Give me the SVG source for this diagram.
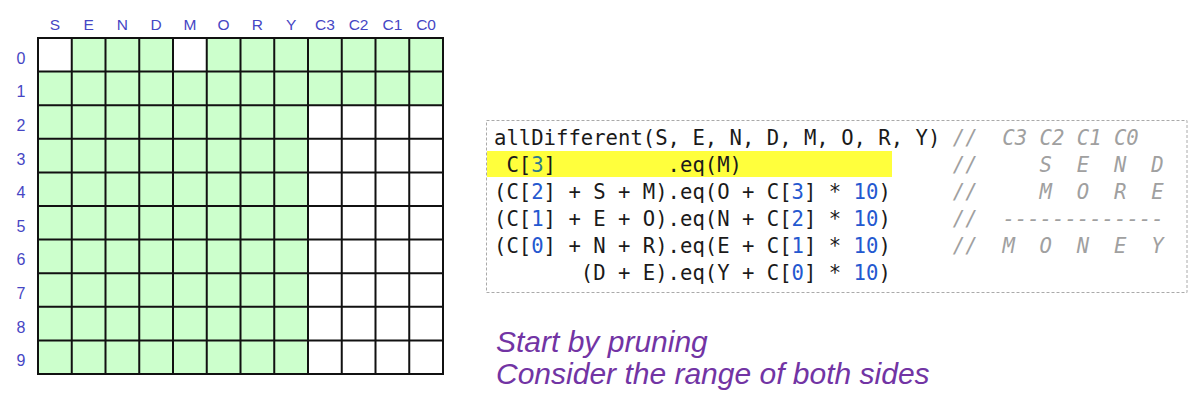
<svg xmlns="http://www.w3.org/2000/svg" width="1190" height="405" viewBox="0 0 1190 405">
<style>
.lbl{font-family:"Liberation Sans",Arial,sans-serif;font-size:15.5px;fill:#4646c4;text-anchor:middle}
.rl{font-family:"Liberation Sans",Arial,sans-serif;font-size:16px;fill:#4646c4;text-anchor:middle}
.g{fill:#ccffcc}
.code{font-family:"DejaVu Sans Mono","Liberation Mono",monospace;font-size:20.6px;fill:#1a1a1a;white-space:pre}
.n{fill:#2458d0}
.cm{fill:#a0a0a0;font-style:italic}
.cap{font-family:"Liberation Sans",Arial,sans-serif;font-size:30px;font-style:italic;fill:#7234a4}
</style>
<rect width="1190" height="405" fill="#ffffff"/>
<g id="column-labels">
<text class="lbl" x="54.9" y="30">S</text>
<text class="lbl" x="88.6" y="30">E</text>
<text class="lbl" x="122.4" y="30">N</text>
<text class="lbl" x="156.1" y="30">D</text>
<text class="lbl" x="189.9" y="30">M</text>
<text class="lbl" x="223.6" y="30">O</text>
<text class="lbl" x="257.4" y="30">R</text>
<text class="lbl" x="291.1" y="30">Y</text>
<text class="lbl" x="324.9" y="30">C3</text>
<text class="lbl" x="358.6" y="30">C2</text>
<text class="lbl" x="392.4" y="30">C1</text>
<text class="lbl" x="426.1" y="30">C0</text>
</g>
<g id="row-labels">
<text class="rl" x="21" y="63.8">0</text>
<text class="rl" x="21" y="97.4">1</text>
<text class="rl" x="21" y="131">2</text>
<text class="rl" x="21" y="164.6">3</text>
<text class="rl" x="21" y="198.2">4</text>
<text class="rl" x="21" y="231.8">5</text>
<text class="rl" x="21" y="265.4">6</text>
<text class="rl" x="21" y="299">7</text>
<text class="rl" x="21" y="332.6">8</text>
<text class="rl" x="21" y="366.2">9</text>
</g>
<g id="grid">
<rect class="g" x="71.75" y="38" width="101.25" height="33.6"/>
<rect class="g" x="206.75" y="38" width="236.25" height="33.6"/>
<rect class="g" x="38" y="71.6" width="405" height="33.6"/>
<rect class="g" x="38" y="105.2" width="270" height="268.8"/>
<path d="M38 38V374M71.75 38V374M105.5 38V374M139.25 38V374M173 38V374M206.75 38V374M240.5 38V374M274.25 38V374M308 38V374M341.75 38V374M375.5 38V374M409.25 38V374M443 38V374M38 38H443M38 71.6H443M38 105.2H443M38 138.8H443M38 172.4H443M38 206H443M38 239.6H443M38 273.2H443M38 306.8H443M38 340.4H443M38 374H443" stroke="#111" stroke-width="2" fill="none" stroke-linecap="square"/>
</g>
<g id="code-box">
<rect x="486.5" y="120.5" width="700.5" height="172" fill="none" stroke="#aaaaaa" stroke-width="1" stroke-dasharray="3,2"/>
<rect x="487" y="151" width="405" height="26" fill="#ffff3c"/>
<text class="code" x="494" y="145" xml:space="preserve">allDifferent(S, E, N, D, M, O, R, Y) <tspan class="cm">//  C3 C2 C1 C0</tspan></text>
<text class="code" x="494" y="172" xml:space="preserve"> C[<tspan fill="#2e7a8c">3</tspan>]         .eq(M)                 <tspan class="cm">//     S  E  N  D</tspan></text>
<text class="code" x="494" y="199" xml:space="preserve">(C[<tspan class="n">2</tspan>] + S + M).eq(O + C[<tspan class="n">3</tspan>] * <tspan class="n">10</tspan>)     <tspan class="cm">//     M  O  R  E</tspan></text>
<text class="code" x="494" y="226" xml:space="preserve">(C[<tspan class="n">1</tspan>] + E + O).eq(N + C[<tspan class="n">2</tspan>] * <tspan class="n">10</tspan>)     <tspan class="cm">//  -------------</tspan></text>
<text class="code" x="494" y="253" xml:space="preserve">(C[<tspan class="n">0</tspan>] + N + R).eq(E + C[<tspan class="n">1</tspan>] * <tspan class="n">10</tspan>)     <tspan class="cm">//  M  O  N  E  Y</tspan></text>
<text class="code" x="494" y="280" xml:space="preserve">       (D + E).eq(Y + C[<tspan class="n">0</tspan>] * <tspan class="n">10</tspan>)</text>
</g>
<g id="caption">
<text class="cap" x="496" y="352">Start by pruning</text>
<text class="cap" x="496" y="384">Consider the range of both sides</text>
</g>
</svg>
